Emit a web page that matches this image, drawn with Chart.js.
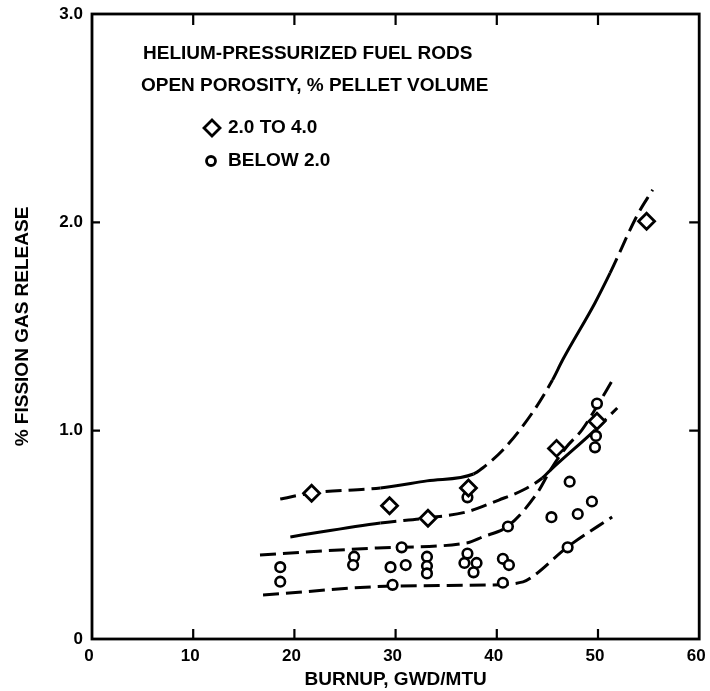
<!DOCTYPE html>
<html>
<head>
<meta charset="utf-8">
<script src="https://cdn.jsdelivr.net/npm/chart.js@4.4.1/dist/chart.umd.min.js"></script>
<style>
  html, body { margin: 0; padding: 0; background: #fff; }
</style>
</head>
<body>
<canvas id="chart" width="710" height="691"></canvas>
<script>
// measured points, burnup (GWd/MTU) vs % fission gas release
var diamondX = [21.7, 29.4, 33.2, 37.2, 45.9, 49.9, 54.8];
var diamondY = [0.70, 0.64, 0.58, 0.725, 0.915, 1.045, 2.005];

var circleX = [18.6, 18.6, 25.9, 25.8, 29.5, 29.7, 30.6, 31.0, 33.1, 33.1, 33.1,
               37.1, 36.8, 38.0, 37.7, 37.1, 40.6, 41.2, 40.6, 41.1, 45.4, 47.2,
               48.0, 49.4, 47.0, 49.8, 49.7, 49.9];
var circleY = [0.345, 0.275, 0.395, 0.355, 0.345, 0.26, 0.44, 0.355, 0.395, 0.35, 0.315,
               0.41, 0.365, 0.365, 0.32, 0.68, 0.385, 0.355, 0.27, 0.54, 0.585, 0.755,
               0.60, 0.66, 0.44, 0.975, 0.92, 1.13];

// band curves (upper bound / fit for diamonds, upper / lower bound for circles)
var curveAX = [18.6, 21.6, 28.5, 33.1, 37.7, 38.6, 40.6, 43.5, 45.5, 46.5, 49.7, 51.2, 53.9, 55.4];
var curveAY = [0.672, 0.70, 0.725, 0.759, 0.792, 0.821, 0.907, 1.085, 1.243, 1.339, 1.613, 1.757, 2.036, 2.156];

var curveBX = [19.6, 28.5, 33.1, 37.0, 40.2, 42.6, 44.5, 45.3, 49.7, 51.9];
var curveBY = [0.49, 0.557, 0.581, 0.61, 0.667, 0.715, 0.773, 0.811, 1.003, 1.109];

var curveCX = [16.6, 28.2, 37.0, 38.6, 41.1, 44.0, 45.3, 46.8, 48.4, 49.5, 51.5];
var curveCY = [0.403, 0.437, 0.461, 0.49, 0.542, 0.701, 0.811, 0.917, 1.003, 1.085, 1.248];

var curveDX = [16.9, 29.8, 38.9, 42.6, 43.5, 47.0, 51.4];
var curveDY = [0.211, 0.254, 0.259, 0.274, 0.298, 0.442, 0.586];

var xTickValues = [0, 10, 20, 30, 40, 50, 60];
var yTickValues = [0, 1, 2, 3];

var xTitle = 'BURNUP, GWD/MTU';
var yTitle = '% FISSION GAS RELEASE';
var legendLines = ['HELIUM-PRESSURIZED FUEL RODS', 'OPEN POROSITY, % PELLET VOLUME'];
var diamondLabel = '2.0 TO 4.0';
var circleLabel = 'BELOW 2.0';

var FONT = '"Liberation Sans", Arial, Helvetica, sans-serif';
var DASH = [16, 7];

function toPoints(xs, ys) {
    var pts = [];
    for (var i = 0; i < xs.length; i++) {
        pts.push({x: xs[i], y: ys[i]});
    }
    return pts;
}

// parts of a curve drawn solid instead of dashed
function dashWithSolid(ranges) {
    return function(ctx) {
        var a = ctx.p0.parsed.x, b = ctx.p1.parsed.x;
        for (var i = 0; i < ranges.length; i++) {
            if (a >= ranges[i][0] && b <= ranges[i][1]) return [];
        }
        return DASH;
    };
}

function curve(xs, ys, solid) {
    return {
        data: toPoints(xs, ys),
        showLine: true,
        borderColor: '#000',
        borderWidth: 3,
        borderDash: DASH,
        pointRadius: 0,
        cubicInterpolationMode: 'monotone',
        fill: false,
        order: 1,
        segment: { borderDash: dashWithSolid(solid || []) }
    };
}

var framePlugin = {
    id: 'frame',
    beforeDraw: function(chart) {
        var ctx = chart.ctx;
        ctx.save();
        ctx.fillStyle = '#fff';
        ctx.fillRect(0, 0, chart.width, chart.height);
        ctx.restore();
    },
    afterDraw: function(chart) {
        var ctx = chart.ctx, a = chart.chartArea;
        var sx = chart.scales.x, sy = chart.scales.y;
        ctx.save();
        ctx.strokeStyle = '#000';
        ctx.lineWidth = 2.8;
        ctx.strokeRect(a.left, a.top, a.right - a.left, a.bottom - a.top);
        ctx.lineWidth = 2.2;
        ctx.beginPath();
        xTickValues.forEach(function(v) {
            if (v <= sx.min || v >= sx.max) return;
            var px = sx.getPixelForValue(v);
            ctx.moveTo(px, a.bottom); ctx.lineTo(px, a.bottom - 10);
            ctx.moveTo(px, a.top); ctx.lineTo(px, a.top + 11);
        });
        yTickValues.forEach(function(v) {
            if (v <= sy.min || v >= sy.max) return;
            var py = sy.getPixelForValue(v);
            ctx.moveTo(a.left, py); ctx.lineTo(a.left + 8, py);
            ctx.moveTo(a.right, py); ctx.lineTo(a.right - 10, py);
        });
        ctx.stroke();

        // legend block inside the plot
        ctx.fillStyle = '#000';
        ctx.font = 'bold 19px ' + FONT;
        ctx.textBaseline = 'middle';
        ctx.textAlign = 'left';
        ctx.fillText(legendLines[0], 143, 54);
        ctx.fillText(legendLines[1], 141, 86);
        ctx.fillText(diamondLabel, 228, 128);
        ctx.fillText(circleLabel, 228, 161);

        ctx.lineWidth = 2.8;
        ctx.fillStyle = '#fff';
        ctx.beginPath();
        ctx.moveTo(212, 120); ctx.lineTo(220, 128); ctx.lineTo(212, 136); ctx.lineTo(204, 128);
        ctx.closePath();
        ctx.fill(); ctx.stroke();
        ctx.beginPath();
        ctx.arc(211, 161, 4.5, 0, Math.PI * 2);
        ctx.fill(); ctx.stroke();
        ctx.restore();
    }
};

var chart = new Chart('chart', {
    type: 'scatter',
    data: {
        datasets: [
            {
                label: diamondLabel,
                data: toPoints(diamondX, diamondY),
                pointStyle: 'rectRot',
                pointRadius: 8,
                pointBorderWidth: 2.8,
                pointBackgroundColor: '#fff',
                pointBorderColor: '#000',
                order: 0
            },
            {
                label: circleLabel,
                data: toPoints(circleX, circleY),
                pointStyle: 'circle',
                pointRadius: 4.8,
                pointBorderWidth: 2.6,
                pointBackgroundColor: '#fff',
                pointBorderColor: '#000',
                order: 0
            },
            curve(curveAX, curveAY, [[28.4, 37.8], [45.4, 51.3]]),
            curve(curveBX, curveBY, [[19.5, 28.6], [44.4, 49.8]]),
            curve(curveCX, curveCY),
            curve(curveDX, curveDY)
        ]
    },
    options: {
        responsive: false,
        animation: false,
        events: [],
        layout: { padding: { top: 14, right: 5, left: 0, bottom: 0 } },
        plugins: {
            legend: { display: false },
            tooltip: { enabled: false }
        },
        scales: {
            x: {
                type: 'linear',
                min: 0,
                max: 60,
                afterBuildTicks: function(s) {
                    s.ticks = xTickValues.map(function(v) { return {value: v}; });
                },
                ticks: {
                    color: '#000',
                    padding: 7,
                    labelOffset: -3,
                    maxRotation: 0,
                    font: { family: FONT, size: 17, weight: 'bold' }
                },
                grid: { display: false, drawTicks: false },
                border: { display: false },
                title: {
                    display: true,
                    text: xTitle,
                    color: '#000',
                    font: { family: FONT, size: 19, weight: 'bold' },
                    padding: { top: 0, bottom: 0 }
                },
                afterFit: function(s) {
                    s.height = 52;
                    s.paddingLeft = 0;
                    s.paddingRight = 0;
                }
            },
            y: {
                type: 'linear',
                min: 0,
                max: 3,
                afterBuildTicks: function(s) {
                    s.ticks = yTickValues.map(function(v) { return {value: v}; });
                },
                ticks: {
                    color: '#000',
                    padding: 9,
                    font: { family: FONT, size: 17, weight: 'bold' },
                    callback: function(v) { return v === 0 ? '0' : v.toFixed(1); }
                },
                grid: { display: false, drawTicks: false },
                border: { display: false },
                title: {
                    display: true,
                    text: yTitle,
                    color: '#000',
                    font: { family: FONT, size: 19, weight: 'bold' },
                    padding: { top: 11, bottom: 0 }
                },
                afterFit: function(s) {
                    s.width = 92;
                    s.paddingTop = 0;
                    s.paddingBottom = 0;
                }
            }
        }
    },
    plugins: [framePlugin]
});
</script>
</body>
</html>
